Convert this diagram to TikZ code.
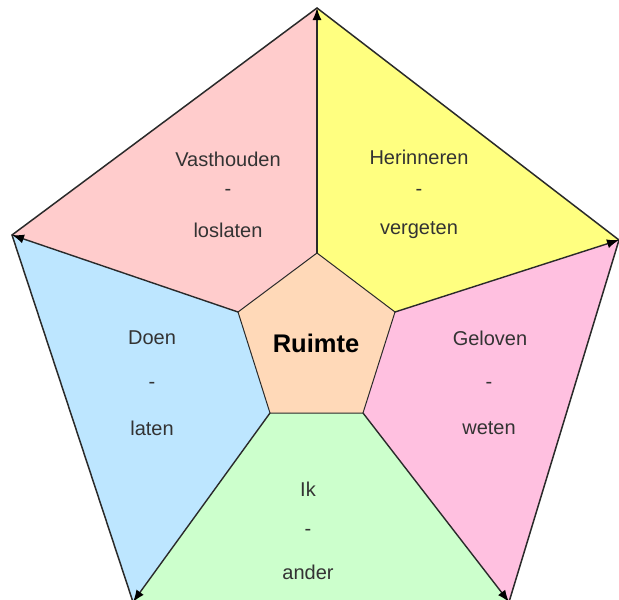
\documentclass[tikz,border=0pt]{standalone}
\usepackage{fontspec}
\setmainfont{Liberation Sans}
\usetikzlibrary{arrows.meta}
\definecolor{cpink}{HTML}{FFCCCC}
\definecolor{cyellow}{HTML}{FFFF80}
\definecolor{cmag}{HTML}{FFC0E0}
\definecolor{cgreen}{HTML}{CCFFCC}
\definecolor{cblue}{HTML}{BDE6FF}
\definecolor{cpeach}{HTML}{FFD9B8}
\definecolor{cline}{HTML}{2A2A2A}
\definecolor{ctext}{HTML}{333333}
\tikzset{
  edge/.style={draw=cline, line width=1.5pt},
  spoke/.style={draw=cline, line width=1.4pt, -{Latex[length=12pt,width=9pt,color=black]}},
  lbl/.style={text=ctext, font=\fontsize{20}{24}\selectfont, inner sep=0pt, anchor=center},
  center/.style={text=black, font=\fontsize{25.5}{28}\selectfont\bfseries, inner sep=0pt}
}
\begin{document}
\begin{tikzpicture}[x=1pt,y=-1pt]
\useasboundingbox (0,0) rectangle (619,600);
\clip (0,0) rectangle (619,600);
% outer vertices
\coordinate (OT) at (317,8);
\coordinate (OR) at (619,240);
\coordinate (OBR) at (509,602);
\coordinate (OBL) at (133,602);
\coordinate (OL) at (12,235);
% inner vertices
\coordinate (IT) at (317,253);
\coordinate (IR) at (395,312);
\coordinate (IBR) at (363,413);
\coordinate (IBL) at (270,413);
\coordinate (IL) at (238,312);
% fills
\fill[cpink] (OT) -- (OL) -- (IL) -- (IT) -- cycle;
\fill[cyellow] (OT) -- (OR) -- (IR) -- (IT) -- cycle;
\fill[cmag] (OR) -- (OBR) -- (IBR) -- (IR) -- cycle;
\fill[cgreen] (OBR) -- (OBL) -- (IBL) -- (IBR) -- cycle;
\fill[cblue] (OBL) -- (OL) -- (IL) -- (IBL) -- cycle;
\filldraw[fill=cpeach, draw=cline, line width=1pt] (IT) -- (IR) -- (IBR) -- (IBL) -- (IL) -- cycle;
% outer edges
\draw[edge] (OT) -- (OR) -- (OBR) -- (OBL) -- (OL) -- cycle;
% spokes
\draw[spoke] (IT) -- (OT);
\draw[spoke] (IR) -- (OR);
\draw[spoke] (IBR) -- (OBR);
\draw[spoke] (IBL) -- (OBL);
\draw[spoke] (IL) -- (OL);
% labels
\node[lbl] (v1) at (228,159) {Vasthouden};
\node[lbl] (v2) at (228,192) {-};
\node[lbl] (v3) at (228,230) {loslaten};
\node[lbl] (h1) at (419,157) {Herinneren};
\node[lbl] (h2) at (419,192) {-};
\node[lbl] (h3) at (419,230) {vergeten};
\node[lbl] (d1) at (152,338) {Doen};
\node[lbl] (d2) at (152,385) {-};
\node[lbl] (d3) at (152,428) {laten};
\node[lbl] (g1) at (490,338) {Geloven};
\node[lbl] (g2) at (489,385) {-};
\node[lbl] (g3) at (489,428) {weten};
\node[lbl] (i1) at (308,489) {Ik};
\node[lbl] (i2) at (308,532) {-};
\node[lbl] (i3) at (308,572) {ander};
\node[center] (r) at (316,343) {Ruimte};
\end{tikzpicture}
\end{document}
